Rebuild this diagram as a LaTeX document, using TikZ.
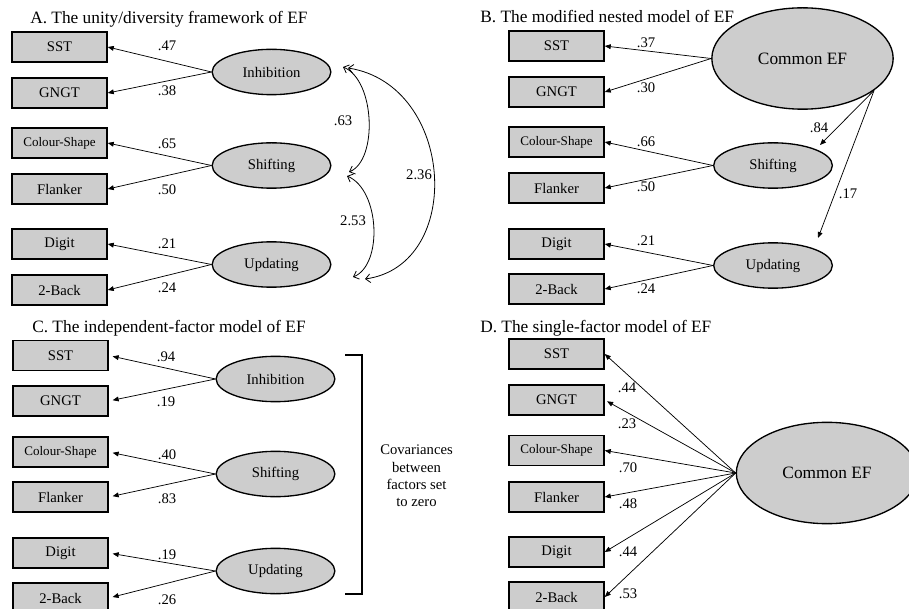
\documentclass[tikz,border=0pt]{standalone}
\usepackage{fontspec}
\setmainfont{Liberation Serif}
\usetikzlibrary{arrows.meta,shapes.geometric}
\definecolor{fillgray}{RGB}{205,205,205}
\begin{document}
\begin{tikzpicture}[x=0.75pt,y=-0.75pt,
  obs/.style={draw=black, line width=1.1pt, fill=fillgray, minimum width=71.25pt, minimum height=22.5pt, inner sep=0pt, font=\fontsize{11}{13}\selectfont},
  obssmall/.style={obs, font=\fontsize{9.8}{11}\selectfont},
  lat/.style={ellipse, draw=black, line width=1pt, fill=fillgray, minimum width=89pt, minimum height=34pt, inner sep=0pt, font=\fontsize{11}{13}\selectfont},
  biglat/.style={lat, minimum width=136pt, minimum height=76pt, font=\fontsize{13}{15}\selectfont},
  load/.style={-{Triangle[length=4.5pt,width=3.6pt]}, line width=0.55pt},
  cov/.style={{Straight Barb[length=3.5pt,width=6.5pt]}-{Straight Barb[length=3.5pt,width=6.5pt]}, line width=0.6pt},
  num/.style={inner sep=0pt, font=\fontsize{11}{13}\selectfont},
  ttl/.style={anchor=base west, inner sep=0pt, font=\fontsize{13}{15}\selectfont}
]
\clip (0,0) rectangle (909,609);
\fill[white] (0,0) rectangle (909,609);

% ---------------- Panel A ----------------
\node[ttl] (tA) at (30,24) {A. The unity/diversity framework of EF};
\node[obs] (aSST) at (59.5,47) {SST};
\node[obs] (aGNGT) at (59.5,93) {GNGT};
\node[obssmall] (aCS) at (59.5,143) {Colour-Shape};
\node[obs] (aFL) at (59.5,189) {Flanker};
\node[obs] (aDG) at (59.5,244) {Digit};
\node[obs] (aTB) at (59.5,290) {2-Back};
\node[lat] (aInh) at (271.5,72) {Inhibition};
\node[lat] (aShi) at (271.5,165.5) {Shifting};
\node[lat] (aUpd) at (271.5,264.5) {Updating};
\draw[load] (aInh.west) -- (aSST.east);
\draw[load] (aInh.west) -- (aGNGT.east);
\draw[load] (aShi.west) -- (aCS.east);
\draw[load] (aShi.west) -- (aFL.east);
\draw[load] (aUpd.west) -- (aDG.east);
\draw[load] (aUpd.west) -- (aTB.east);
\node[num] at (167,46) {.47};
\node[num] at (167,91) {.38};
\node[num] at (167,144) {.65};
\node[num] at (167,190) {.50};
\node[num] at (167,244) {.21};
\node[num] at (167,288) {.24};
\coordinate (cIa) at (343,67);
\coordinate (cIb) at (348,68);
\coordinate (cSa) at (349,172);
\coordinate (cSb) at (347,176);
\coordinate (cUa) at (353,277);
\coordinate (cUb) at (365,279);
\draw[cov] (cIa) .. controls (375,80) and (378,160) .. (cSa);
\draw[cov] (cSb) .. controls (380,190) and (383,265) .. (cUa);
\draw[cov] (cIb) .. controls (455,85) and (465,265) .. (cUb);
\node[num] at (343,121) {.63};
\node[num] at (353,221) {2.53};
\node[num] at (419,175) {2.36};

% ---------------- Panel B ----------------
\node[ttl] (tB) at (480,23) {B. The modified nested model of EF};
\node[obs] (bSST) at (556.5,46) {SST};
\node[obs] (bGNGT) at (556.5,92) {GNGT};
\node[obssmall] (bCS) at (556.5,142) {Colour-Shape};
\node[obs] (bFL) at (556.5,188) {Flanker};
\node[obs] (bDG) at (556.5,244) {Digit};
\node[obs] (bTB) at (556.5,289) {2-Back};
\node[biglat] (bCom) at (802.5,58.5) {Common EF};
\node[lat] (bShi) at (773,165.5) {Shifting};
\node[lat] (bUpd) at (773,265.5) {Updating};
\draw[load] (bCom.west) -- (bSST.east);
\draw[load] (bCom.west) -- (bGNGT.east);
\draw[load] (bShi.west) -- (bCS.east);
\draw[load] (bShi.west) -- (bFL.east);
\draw[load] (bUpd.west) -- (bDG.east);
\draw[load] (bUpd.west) -- (bTB.east);
\coordinate (bTipS) at (820,145);
\coordinate (bTipU) at (818,238);
\draw[load] (bCom.-24) -- (bTipS);
\draw[load] (bCom.-24) -- (bTipU);
\node[num] at (646,43) {.37};
\node[num] at (646,88) {.30};
\node[num] at (646,142) {.66};
\node[num] at (646,187) {.50};
\node[num] at (646,241) {.21};
\node[num] at (646,289) {.24};
\node[num] at (819,128) {.84};
\node[num] at (848,194) {.17};

% ---------------- Panel C ----------------
\node[ttl] (tC) at (32,332) {C. The independent-factor model of EF};
\node[obs] (cSST) at (60.5,355.5) {SST};
\node[obs] (cGNGT) at (60.5,401) {GNGT};
\node[obssmall] (cCS) at (60.5,452) {Colour-Shape};
\node[obs] (cFL) at (60.5,497) {Flanker};
\node[obs] (cDG) at (60.5,553) {Digit};
\node[obs] (cTB) at (60.5,598) {2-Back};
\node[lat] (cInh) at (275.5,379) {Inhibition};
\node[lat] (cShi) at (275.5,474) {Shifting};
\node[lat] (cUpd) at (275.5,571) {Updating};
\draw[load, shorten >=3pt] (cInh.west) -- (cSST.east);
\draw[load, shorten >=3pt] (cInh.west) -- (cGNGT.east);
\draw[load, shorten >=3pt] (cShi.west) -- (cCS.east);
\draw[load, shorten >=3pt] (cShi.west) -- (cFL.east);
\draw[load, shorten >=3pt] (cUpd.west) -- (cDG.east);
\draw[load, shorten >=3pt] (cUpd.west) -- (cTB.east);
\node[num] at (166,357) {.94};
\node[num] at (166,402) {.19};
\node[num] at (167,455) {.40};
\node[num] at (167,499) {.83};
\node[num] at (167,555) {.19};
\node[num] at (167,600) {.26};
\draw[line width=1pt] (345,355) -- (362,355) -- (362,594) -- (345,594);
\node[align=center, inner sep=0pt, font=\fontsize{11}{13.1}\selectfont] (cNote) at (416.5,476) {Covariances\\between\\factors set\\to zero};

% ---------------- Panel D ----------------
\node[ttl] (tD) at (480,332) {D. The single-factor model of EF};
\node[obs] (dSST) at (556.5,354) {SST};
\node[obs] (dGNGT) at (556.5,400) {GNGT};
\node[obssmall] (dCS) at (556.5,450.5) {Colour-Shape};
\node[obs] (dFL) at (556.5,497) {Flanker};
\node[obs] (dDG) at (556.5,552) {Digit};
\node[obs] (dTB) at (556.5,597) {2-Back};
\node[biglat] (dCom) at (827,473) {Common EF};
\draw[load] (dCom.west) -- (dSST.east);
\draw[load, shorten >=2pt] (dCom.west) -- (dGNGT.east);
\draw[load] (dCom.west) -- (dCS.east);
\draw[load] (dCom.west) -- (dFL.east);
\draw[load] (dCom.west) -- (dDG.east);
\draw[load] (dCom.west) -- (dTB.east);
\node[num] at (627,388) {.44};
\node[num] at (627,424) {.23};
\node[num] at (628,468) {.70};
\node[num] at (628,504) {.48};
\node[num] at (628,552) {.44};
\node[num] at (628,594) {.53};
\end{tikzpicture}
\end{document}
